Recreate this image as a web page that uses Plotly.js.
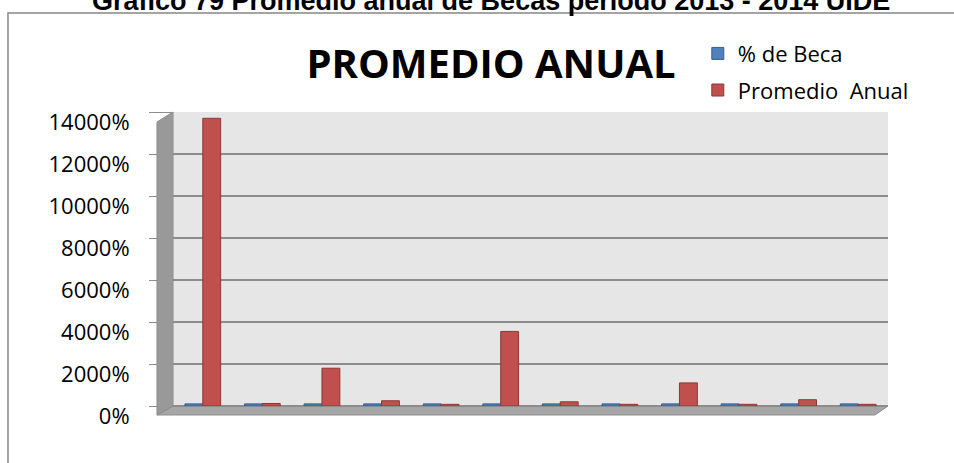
<!DOCTYPE html>
<html>
<head>
<meta charset="utf-8">
<script src="https://cdn.plot.ly/plotly-3.0.1.min.js"></script>
<style>html,body{margin:0;padding:0;background:#fff;}#chart{width:954px;height:463px;}</style>
</head>
<body>
<div id="chart"></div>
<script>
// Data (values in %)
const categories = ['1','2','3','4','5','6','7','8','9','10','11','12'];
const becaPct = [100, 100, 100, 100, 100, 100, 100, 100, 100, 100, 100, 100];
const promedioAnual = [13700, 120, 1800, 250, 80, 3550, 200, 80, 1100, 80, 300, 80];
const tickVals = [0, 2000, 4000, 6000, 8000, 10000, 12000, 14000];
const tickText = tickVals.map(v => v + '%');
const seriesNames = ['% de Beca', 'Promedio  Anual'];

const traces = [
  {type:'bar', x:categories, y:becaPct, name:seriesNames[0], legendgroup:'a',
   marker:{color:'#4f81bd', line:{color:'#385d8a', width:1}}},
  {type:'bar', x:categories, y:promedioAnual, name:seriesNames[1], legendgroup:'b',
   marker:{color:'#c0504d', line:{color:'#8c3836', width:1}}}
];

const layout = {
  width:954, height:463,
  margin:{l:173, r:66, t:112, b:57},
  paper_bgcolor:'#ffffff',
  plot_bgcolor:'#e6e6e6',
  barmode:'group', bargap:0.4, bargroupgap:0,
  font:{family:'Open Sans, sans-serif', color:'#000'},
  title:{text:'<b>PROMEDIO ANUAL</b>', font:{family:'Open Sans', size:40, color:'#000'},
         xref:'container', yref:'container', x:0.5147, y:0.8607, xanchor:'center', yanchor:'middle'},
  showlegend:true,
  legend:{x:0.734, y:1.27, xanchor:'left', yanchor:'top', font:{size:22, family:'Open Sans'},
          bgcolor:'rgba(0,0,0,0)', tracegroupgap:5, traceorder:'grouped'},
  xaxis:{type:'category', showticklabels:false, ticks:'', showgrid:false, zeroline:false, showline:false, fixedrange:true},
  yaxis:{range:[0,14000], tickmode:'array', tickvals:tickVals, ticktext:tickText, tickfont:{size:22, family:'Open Sans'},
         showgrid:true, gridcolor:'#8c8c8c', gridwidth:2, zeroline:true, zerolinecolor:'#8c8c8c', zerolinewidth:2,
         ticks:'outside', ticklen:23, tickcolor:'#8c8c8c', ticklabelstandoff:15, ticklabelshift:10,
         showline:false, fixedrange:true},
  shapes:[
    // outer frame
    {type:'rect', xref:'paper', yref:'paper', x0:-0.2308, x1:1.2, y0:-0.5, y1:1.3367,
     line:{color:'#868686', width:1.5}, fillcolor:'rgba(0,0,0,0)', layer:'below'},
    // side wall
    {type:'path', xref:'paper', yref:'paper', path:'M -0.0224,-0.0306 L -0.0224,0.966 L 0,1 L 0,0 Z',
     fillcolor:'#999999', line:{color:'#8c8c8c', width:1}, layer:'above'},
    // floor
    {type:'path', xref:'paper', yref:'paper', path:'M -0.0224,-0.0306 L 0.9818,-0.0306 L 1,0 L 0,0 Z',
     fillcolor:'#a6a6a6', line:{color:'#8c8c8c', width:1}, layer:'below'}
  ],
  annotations:[
    {text:'<b>Gráfico 79 Promedio anual de Becas período 2013 - 2014 UIDE</b>', xref:'paper', yref:'paper',
     x:0.4448, y:1.3776, xanchor:'center', yanchor:'middle', showarrow:false,
     font:{family:'Liberation Sans, Arial, sans-serif', size:27, color:'#000'}}
  ]
};

Plotly.newPlot('chart', traces, layout, {displayModeBar:false, staticPlot:true});
</script>
</body>
</html>
